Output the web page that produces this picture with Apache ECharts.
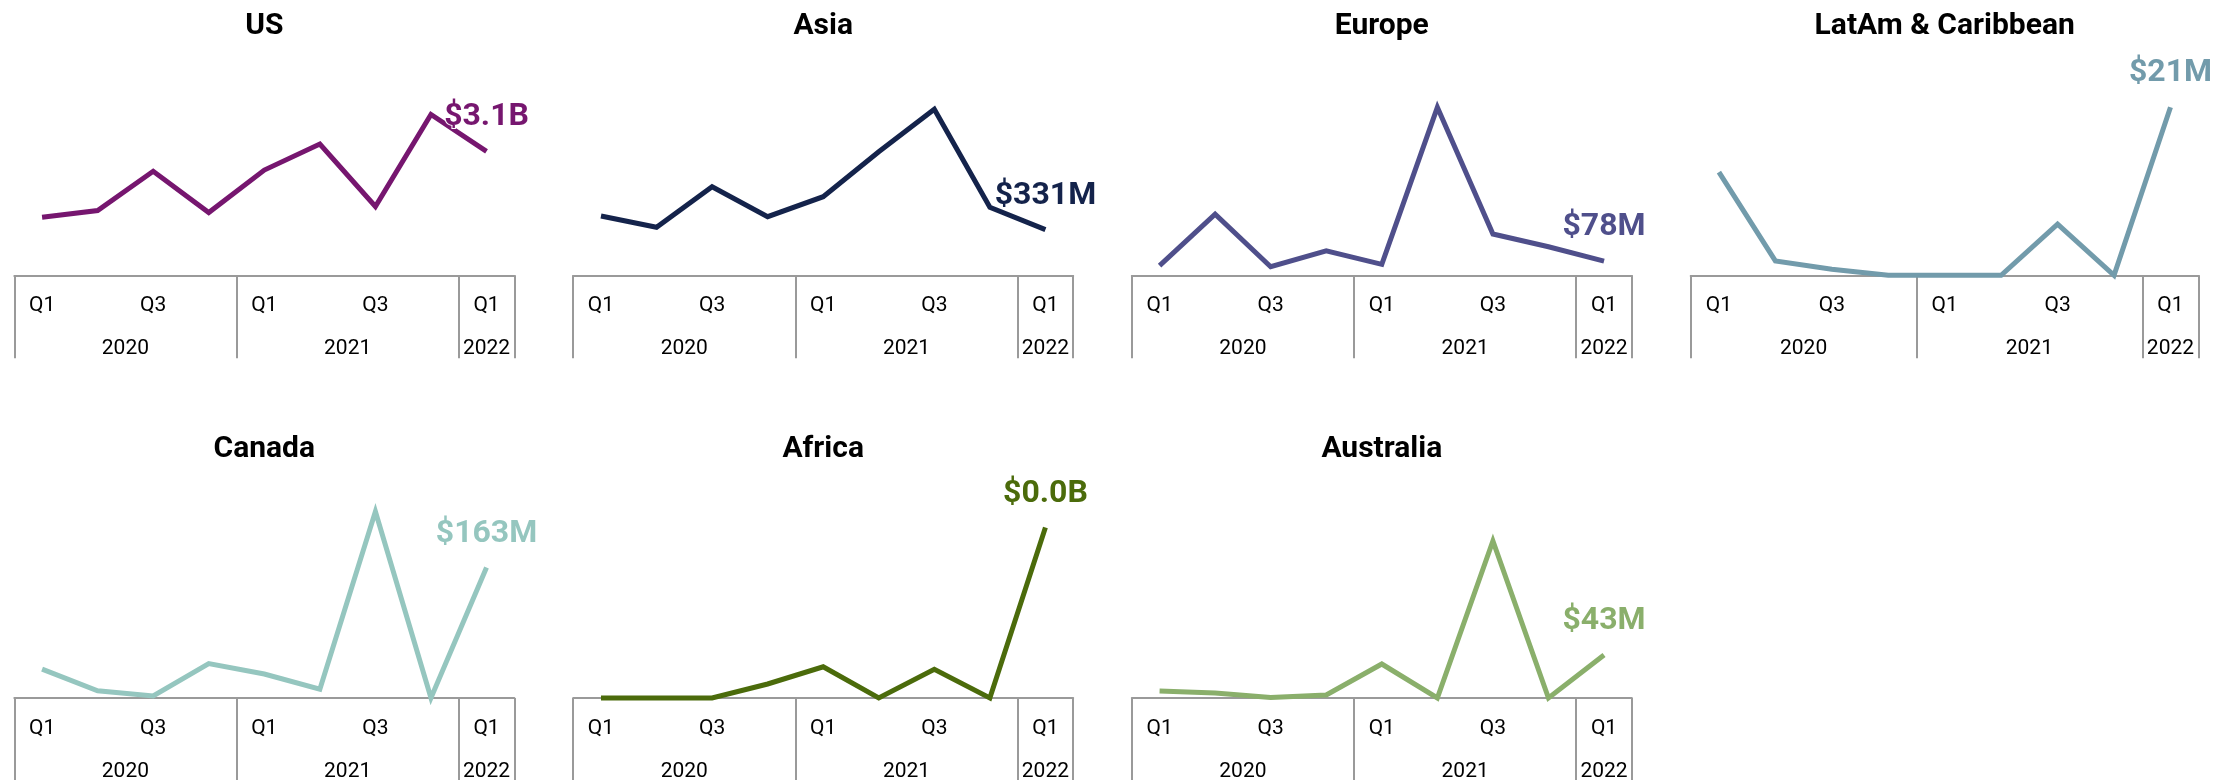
<!DOCTYPE html>
<html>
<head>
<meta charset="utf-8">
<title>Quarterly volume by region</title>
<script src="https://cdn.jsdelivr.net/npm/echarts@6/dist/echarts.min.js"></script>
<style>
  html, body { margin: 0; padding: 0; background: #ffffff; }
  #chart { width: 2231px; height: 780px; }
</style>
</head>
<body>
<div id="chart"></div>
<script>
// Quarter / year labels of the shared time axis
const quarters = ['Q1', 'Q2', 'Q3', 'Q4', 'Q1', 'Q2', 'Q3', 'Q4', 'Q1'];
const years = ['2020', '2020', '2020', '2020', '2021', '2021', '2021', '2021', '2022'];

// Regions, the unit each one is reported in, and the line colour
const regions = ['US', 'Asia', 'Europe', 'LatAm & Caribbean', 'Canada', 'Africa', 'Australia'];
const units = ['B', 'M', 'M', 'M', 'M', 'B', 'M'];
const colors = ['#76166f', '#14234b', '#4f4f8b', '#729bab', '#95c6bf', '#4b6b0b', '#8aaf6b'];

// Quarterly values per region (in the unit above)
const usValues        = [1.45, 1.62, 2.6, 1.57, 2.63, 3.28, 1.72, 4.02, 3.1];
const asiaValues      = [430, 348, 642, 425, 570, 896, 1204, 493, 331];
const europeValues    = [53, 336, 47, 135, 60, 924, 227, 157, 78];
const latamValues     = [12.9, 1.8, 0.75, 0, 0, 0, 6.4, 0, 21];
const canadaValues    = [36, 9, 2.5, 43, 30, 11, 233, 0, 163];
const africaValues    = [0, 0, 0, 0.0035, 0.0078, 0, 0.0072, 0, 0.0426];
const australiaValues = [7, 5, 0.5, 3, 34, 0, 157, 0, 43];

// Upper end of each panel's (hidden) value axis
const yMax = [5, 1450, 1100, 25, 250, 0.05, 200];

const seriesValues = [usValues, asiaValues, europeValues, latamValues,
                      canadaValues, africaValues, australiaValues];

// Panel geometry
const panelLeft  = [14.3, 573.2, 1131.8, 1690.7, 14.3, 573.2, 1131.8];
const panelWidth = [500, 500, 500, 508, 500, 500, 500];
const rowTop = [75.3, 498];
const plotHeight = 200;
const titleTop = [11, 434];

const AXIS_GREY = '#9a9a9a';
const FONT = 'Roboto, "Noto Sans", sans-serif';

function formatValue(v, unit) {
  return unit === 'B' ? '$' + v.toFixed(1) + 'B' : '$' + Math.round(v) + 'M';
}

// Centre of each year's run of quarters, in band units on a 0..n scale
function yearCenters() {
  const out = [];
  let start = 0;
  for (let i = 1; i <= years.length; i++) {
    if (i === years.length || years[i] !== years[start]) {
      out.push({ pos: (start + i) / 2, label: years[start] });
      start = i;
    }
  }
  return out;
}
const yearMarks = yearCenters();
const categories = quarters.map((q, i) => years[i] + ' ' + q);

const option = {
  animation: false,
  backgroundColor: '#ffffff',
  title: [], grid: [], xAxis: [], yAxis: [], series: []
};

regions.forEach((name, i) => {
  const row = i < 4 ? 0 : 1;
  const left = panelLeft[i];
  const width = panelWidth[i];
  const unit = units[i];
  const values = seriesValues[i];
  const last = values.length - 1;

  option.title.push({
    text: name,
    left: left + width / 2,
    top: titleTop[row],
    padding: 0,
    textAlign: 'center',
    textVerticalAlign: 'top',
    textStyle: { fontFamily: FONT, fontSize: 30, fontWeight: 'bold', color: '#000000' }
  });

  option.grid.push({
    left: left, top: rowTop[row], width: width, height: plotHeight,
    containLabel: false, outerBoundsMode: 'none'
  });

  // quarter level of the axis, with year boundaries as long ticks
  option.xAxis.push({
    type: 'category',
    gridIndex: i,
    data: categories,
    boundaryGap: true,
    position: 'bottom',
    offset: 2,
    axisLine: { show: true, lineStyle: { color: AXIS_GREY, width: 2 } },
    axisTick: {
      show: true,
      length: 83,
      interval: (idx) => quarters[idx] === 'Q1',
      lineStyle: { color: AXIS_GREY, width: 2 }
    },
    axisLabel: {
      interval: 1,
      margin: 18,
      fontFamily: FONT, fontSize: 21, color: '#000000',
      formatter: (v) => v.split(' ')[1]
    },
    splitLine: { show: false }
  });

  // year level of the axis
  option.xAxis.push({
    type: 'value',
    gridIndex: i,
    min: 0,
    max: quarters.length,
    position: 'bottom',
    axisLine: { show: false },
    axisTick: { show: false },
    splitLine: { show: false },
    axisLabel: {
      customValues: yearMarks.map(m => m.pos),
      margin: 63,
      fontFamily: FONT, fontSize: 21, color: '#000000',
      formatter: (v) => {
        const m = yearMarks.find(y => Math.abs(y.pos - v) < 1e-6);
        return m ? m.label : '';
      }
    }
  });

  option.yAxis.push({
    type: 'value', gridIndex: i, min: 0, max: yMax[i], show: false,
    splitLine: { show: false }
  });

  option.series.push({
    name: name,
    type: 'line',
    xAxisIndex: i * 2,
    yAxisIndex: i,
    data: values,
    clip: false,
    symbol: 'circle',
    symbolSize: 0,
    showSymbol: true,
    showAllSymbol: true,
    lineStyle: { color: colors[i], width: 5, join: 'miter' },
    itemStyle: { color: colors[i] },
    label: {
      show: true,
      position: 'top',
      distance: 18,
      fontFamily: FONT, fontSize: 32, fontWeight: 'bold',
      color: colors[i],
      textBorderColor: '#ffffff', textBorderWidth: 2,
      formatter: (p) => p.dataIndex === last ? formatValue(p.value, unit) : ''
    },
    emphasis: { disabled: true },
    z: 3
  });
});

const chart = echarts.init(document.getElementById('chart'), null, { renderer: 'canvas' });
chart.setOption(option);
</script>
</body>
</html>
